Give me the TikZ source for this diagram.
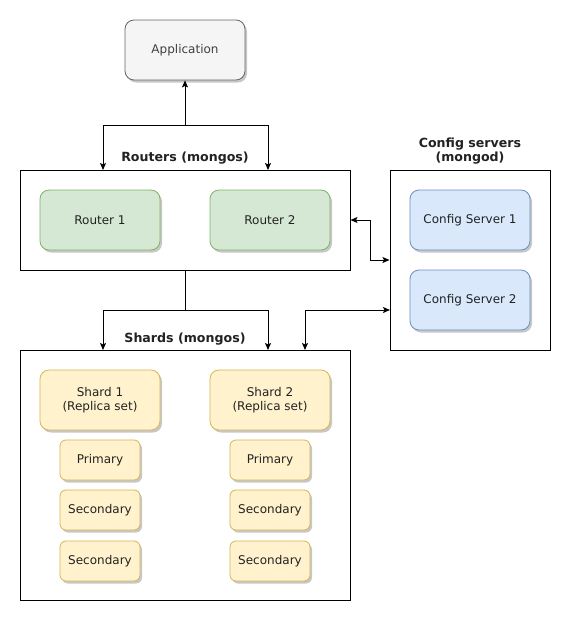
\documentclass[tikz,border=0pt]{standalone}
\usepackage{fontspec}
\setmainfont{DejaVu Sans}
\usepackage{tikz}
\usetikzlibrary{arrows.meta,shadows}

\definecolor{appfill}{HTML}{F5F5F5}
\definecolor{appline}{HTML}{666666}
\definecolor{rtfill}{HTML}{D5E8D4}
\definecolor{rtline}{HTML}{82B366}
\definecolor{cfgfill}{HTML}{DAE8FC}
\definecolor{cfgline}{HTML}{6C8EBF}
\definecolor{shfill}{HTML}{FFF2CC}
\definecolor{shline}{HTML}{D6B656}
\definecolor{txt}{HTML}{222222}

\begin{document}
\begin{tikzpicture}[x=1pt,y=-1pt,
    font=\fontsize{12}{14}\selectfont,
    >={Stealth[length=7pt,width=6pt,inset=1.5pt]},
    line width=1pt,
    group/.style={draw=black,fill=white,minimum width=#1,inner sep=0pt},
    box/.style={rounded corners=9pt,minimum width=120pt,minimum height=60pt,
      inner sep=0pt,align=center,line width=.8pt,text=txt,
      drop shadow={shadow xshift=2pt,shadow yshift=-2.5pt,opacity=.22,fill=black}},
    small/.style={box,rounded corners=6pt,minimum width=80pt,minimum height=40pt},
    title/.style={font=\fontsize{12.6}{14}\selectfont\bfseries,align=center,text=txt}]
  \useasboundingbox[fill=white] (0,0) rectangle (571,621);

  \node[box,fill=appfill,draw=appline,text=black!75] (app) at (185,50) {Application};

  \begin{scope}
    \node[group=330pt,minimum height=100pt] (routers) at (185,220) {};
    \node[title] (routerslbl) at (185,158) {Routers (mongos)};
    \node[box,fill=rtfill,draw=rtline] (rt1) at (100,220) {Router 1};
    \node[box,fill=rtfill,draw=rtline] (rt2) at (270,220) {Router 2};

    \node[group=160pt,minimum height=180pt] (config) at (470,260) {};
    \node[title] (configlbl) at (470,151) {Config servers\\(mongod)};
    \node[box,fill=cfgfill,draw=cfgline] (cfg1) at (470,220) {Config Server 1};
    \node[box,fill=cfgfill,draw=cfgline] (cfg2) at (470,300) {Config Server 2};

    \node[group=330pt,minimum height=250pt] (shards) at (185,475) {};
    \node[title] (shardslbl) at (185,339) {Shards (mongos)};
    \node[box,fill=shfill,draw=shline] (sh1) at (100,400) {Shard 1\\(Replica set)};
    \node[box,fill=shfill,draw=shline] (sh2) at (270,400) {Shard 2\\(Replica set)};
    \foreach \x/\s in {100/1,270/2} {
      \node[small,fill=shfill,draw=shline] (pri\s) at (\x,460) {Primary};
      \node[small,fill=shfill,draw=shline] (seca\s) at (\x,510) {Secondary};
      \node[small,fill=shfill,draw=shline] (secb\s) at (\x,561) {Secondary};
    }
  \end{scope}

  \coordinate (jr) at (185,125);
  \coordinate (rtin1) at (103,170);
  \coordinate (rtin2) at (268,170);
  \coordinate (js) at (185,310);
  \coordinate (shin1) at (103,350);
  \coordinate (shin2) at (268,350);
  \coordinate (shin3) at (305,350);
  \coordinate (cfgin) at (390,310);

  \draw[->] (jr) -- (app);
  \draw[->] (jr) -| (rtin1);
  \draw[->] (jr) -| (rtin2);
  \draw (routers.south) -- (js);
  \draw[->] (js) -| (shin1);
  \draw[->] (js) -| (shin2);
  \draw[<->] (routers.east) -- ++(20,0) |- (config.west);
  \draw[<->] (cfgin) -| (shin3);
\end{tikzpicture}
\end{document}
